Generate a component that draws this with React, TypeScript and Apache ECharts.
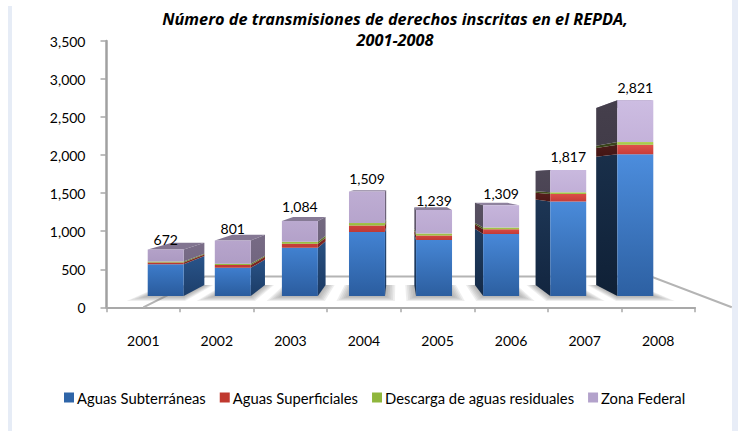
import React, { useEffect, useRef } from "react";
import * as echarts from "echarts";

const years = ["2001", "2002", "2003", "2004", "2005", "2006", "2007", "2008"];
const subterraneas = [460, 407, 695, 925, 810, 896, 1362, 2043];
const superficiales = [25, 40, 58, 92, 63, 68, 109, 139];
const descarga = [12, 18, 29, 37, 29, 24, 24, 37];
const zonaFederal = [175, 336, 302, 455, 337, 321, 322, 602];
const totals = [672, 801, 1084, 1509, 1239, 1309, 1817, 2821];

const seriesNames = ["Aguas Subterráneas", "Aguas Superficiales", "Descarga de aguas residuales", "Zona Federal"];
const seriesValues = [subterraneas, superficiales, descarga, zonaFederal];

// style: [top-left bars, bottom-left bars, top-right bars, bottom-right bars]
const palette = [
  ["#3d7ccb", "#2a5b9c", "#4c8ddd", "#2d60a2"],
  ["#c4332f", "#b43a36", "#e0524c", "#c83c38"],
  ["#97bb3f", "#8ab034", "#b2d25a", "#a0c444"],
  ["#b3a1c8", "#ac9ac2", "#cdbde2", "#c4b2da"],
];
const legendColors = ["#2f65a8", "#c0392f", "#8fb63c", "#b3a2cb"];
const labelNudgeY = [3, 0, -2, 0, 3, 1, -1, 0];

const VP_X = 398;
const VP_Y = 180;
const S_FRONT = 0.912;
const S_BACK = 0.824;
const S_FLOOR = 0.758;
const BAR_RATIO = 0.268;
const SHADOW_STEPS = [11, 9, 7, 5, 3, 1];

const project = (p: number[], s: number) => [VP_X + (p[0] - VP_X) * s, VP_Y + (p[1] - VP_Y) * s];

const hex = (c: string) => [1, 3, 5].map((i) => parseInt(c.slice(i, i + 2), 16));
const mix = (a: string, b: string, t: number) => {
  const A = hex(a);
  const B = hex(b);
  return "rgb(" + A.map((v, i) => Math.round(v + (B[i] - v) * t)).join(",") + ")";
};
const shade = (c: string, f: number) => {
  const m = c.match(/\d+/g)!.map(Number);
  return "rgb(" + m.map((v) => Math.round(v * f)).join(",") + ")";
};

const poly = (points: number[][], fill: any) => ({
  type: "polygon",
  silent: true,
  shape: { points },
  style: { fill, stroke: null },
});

function barRenderer(seriesIndex: number) {
  return (_params: any, api: any) => {
    const i = api.value(0);
    const t = i / (years.length - 1);
    const half = api.size([1, 0])[0] * BAR_RATIO;
    const lo = api.coord([i, api.value(1)]);
    const hi = api.coord([i, api.value(2)]);
    const F = (p: number[], dx: number, s: number) => project([p[0] + dx, p[1]], s);
    const p = palette[seriesIndex];
    const topC = mix(p[0], p[2], t);
    const botC = mix(p[1], p[3], t);
    const sideF = i < 4 ? 0.68 - i * 0.03 : 0.5 - (i - 4) * 0.055;
    const front = new echarts.graphic.LinearGradient(0, 0, 0, 1, [
      { offset: 0, color: topC },
      { offset: 1, color: botC },
    ]);
    const side = new echarts.graphic.LinearGradient(0, 0, 0, 1, [
      { offset: 0, color: shade(topC, sideF) },
      { offset: 1, color: shade(botC, sideF) },
    ]);
    // The side that shows is the one turned towards the vanishing point.
    const edge = i < 4 ? half : -half;
    const children: any[] = [];
    if (seriesIndex === seriesValues.length - 1) {
      children.push(
        poly(
          [F(hi, -half, S_FRONT), F(hi, half, S_FRONT), F(hi, half, S_BACK), F(hi, -half, S_BACK)],
          shade(topC, 0.72)
        )
      );
    }
    children.push(
      poly([F(lo, edge, S_FRONT), F(hi, edge, S_FRONT), F(hi, edge, S_BACK), F(lo, edge, S_BACK)], side),
      poly([F(lo, -half, S_FRONT), F(hi, -half, S_FRONT), F(hi, half, S_FRONT), F(lo, half, S_FRONT)], front)
    );
    return { type: "group", children };
  };
}

const floorRenderer = (_params: any, api: any) => {
  const a = api.coord([-0.5, 0]);
  const b = api.coord([years.length - 0.5, 0]);
  return {
    type: "polyline",
    silent: true,
    shape: { points: [a, project(a, S_FLOOR), project(b, S_FLOOR), b] },
    style: { fill: null, stroke: "#b4b4b4", lineWidth: 2 },
  };
};

// A soft shadow on the floor: stacked translucent footprints, widest first.
const shadowRenderer = (_params: any, api: any) => {
  const i = api.value(0);
  const half = api.size([1, 0])[0] * BAR_RATIO;
  const c = api.coord([i, 0]);
  return {
    type: "group",
    silent: true,
    children: SHADOW_STEPS.map((m) => {
      const d = m * 0.0035;
      return {
        type: "polygon",
        silent: true,
        shape: {
          points: [
            project([c[0] - half - m, c[1]], S_FRONT + d),
            project([c[0] + half + m, c[1]], S_FRONT + d),
            project([c[0] + half + m, c[1]], S_BACK),
            project([c[0] - half - m, c[1]], S_BACK),
          ],
        },
        style: { fill: "rgba(120,120,120,0.13)" },
      };
    }),
  };
};

const labelRenderer = (_params: any, api: any) => {
  const i = api.value(0);
  const p = project(api.coord([i, api.value(1)]), S_FRONT);
  return {
    type: "text",
    silent: true,
    x: p[0],
    y: p[1] - 12.5 + labelNudgeY[i],
    style: {
      text: api.value(1).toLocaleString("en-US"),
      fill: "#000",
      font: "14px Lato",
      textAlign: "center",
      textVerticalAlign: "middle",
    },
  };
};

export default function App() {
  const ref = useRef<HTMLDivElement>(null);
  useEffect(() => {
    const chart = echarts.init(ref.current!, null, { renderer: "svg" });
    const series: any[] = [
      {
        type: "custom",
        silent: true,
        clip: false,
        renderItem: floorRenderer,
        data: [[0]],
        encode: { x: 0, y: -1 },
      },
      {
        type: "custom",
        silent: true,
        clip: false,
        renderItem: shadowRenderer,
        data: years.map((_, i) => [i]),
        encode: { x: 0, y: -1 },
      },
    ];
    const running = years.map(() => 0);
    seriesValues.forEach((vals, si) => {
      series.push({
        type: "custom",
        name: seriesNames[si],
        silent: true,
        clip: false,
        itemStyle: { color: legendColors[si] },
        renderItem: barRenderer(si),
        data: vals.map((v, i) => {
          const row = [i, running[i], running[i] + v];
          running[i] += v;
          return row;
        }),
        encode: { x: 0, y: 2 },
      });
    });
    series.push({
      type: "custom",
      silent: true,
      clip: false,
      renderItem: labelRenderer,
      data: totals.map((v, i) => [i, v]),
      encode: { x: 0, y: 1 },
    });

    chart.setOption({
      animation: false,
      backgroundColor: "#fff",
      textStyle: { fontFamily: "Lato" },
      title: {
        text: "Número de transmisiones de derechos inscritas en el REPDA,\n2001-2008",
        left: 390,
        top: 3,
        textAlign: "center",
        textStyle: {
          fontFamily: "Open Sans",
          fontSize: 16.3,
          fontWeight: "bold",
          fontStyle: "italic",
          color: "#000",
          lineHeight: 21,
        },
      },
      grid: { left: 106.5, top: 41, width: 588.5, height: 266.3, containLabel: false },
      xAxis: {
        type: "category",
        data: years,
        boundaryGap: true,
        axisLine: { show: true, lineStyle: { color: "#a9a9a9", width: 2 } },
        axisTick: { show: true, length: 5, lineStyle: { color: "#a9a9a9", width: 1.5 } },
        axisLabel: { color: "#000", fontSize: 14, margin: 26, fontFamily: "Lato" },
      },
      yAxis: {
        type: "value",
        min: 0,
        max: 3500,
        interval: 500,
        splitLine: { show: false },
        axisLine: { show: true, lineStyle: { color: "#a0a0a0", width: 2.5 } },
        axisTick: { show: true, length: 6, lineStyle: { color: "#a9a9a9", width: 1.5 } },
        axisLabel: { color: "#000", fontSize: 14, margin: 21, fontFamily: "Lato" },
      },
      legend: {
        data: seriesNames,
        left: 64,
        top: 390,
        padding: 0,
        itemWidth: 10,
        itemHeight: 10,
        itemGap: 14,
        icon: "rect",
        textStyle: { color: "#000", fontSize: 14.8, fontFamily: "Lato", padding: [0, 0, 0, -2] },
      },
      graphic: [
        { type: "rect", silent: true, shape: { x: 8, y: 6, width: 4, height: 425 }, style: { fill: "#e6ecf6" } },
        { type: "rect", silent: true, shape: { x: 732, y: 0, width: 6, height: 431 }, style: { fill: "#e8edf7" } },
      ],
      series,
    });
    return () => chart.dispose();
  }, []);
  return <div ref={ref} style={{ position: "fixed", left: 0, top: 0, width: 738, height: 431 }} />;
}
